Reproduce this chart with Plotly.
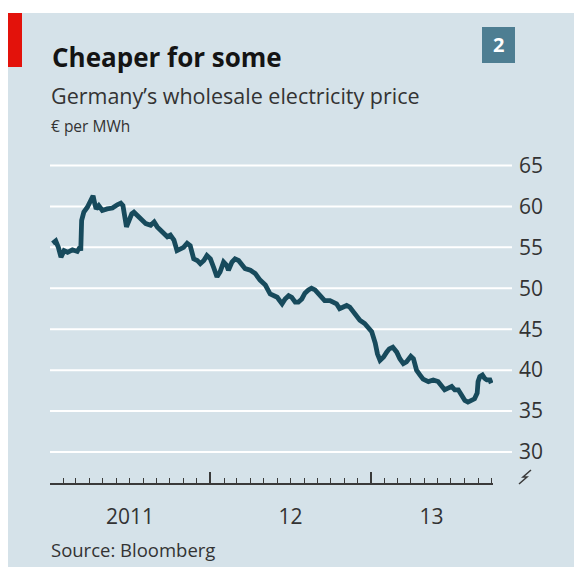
import plotly.graph_objects as go

# ---- data ----
dates = [
    "2011-01-07", "2011-01-14", "2011-01-20", "2011-01-26", "2011-02-02", "2011-02-10",
    "2011-02-21", "2011-03-04", "2011-03-10", "2011-03-12", "2011-03-14", "2011-03-19",
    "2011-03-27", "2011-04-04", "2011-04-09", "2011-04-13", "2011-04-16", "2011-04-22",
    "2011-04-30", "2011-05-11", "2011-05-23", "2011-06-03", "2011-06-11", "2011-06-16",
    "2011-06-20", "2011-06-24", "2011-06-30", "2011-07-06", "2011-07-11", "2011-07-19",
    "2011-07-26", "2011-08-07", "2011-08-18", "2011-08-26", "2011-09-02", "2011-09-10",
    "2011-09-17", "2011-09-25", "2011-10-02", "2011-10-10", "2011-10-17", "2011-10-25",
    "2011-11-01", "2011-11-09", "2011-11-16", "2011-11-24", "2011-12-02", "2011-12-09",
    "2011-12-17", "2011-12-24", "2012-01-01", "2012-01-08", "2012-01-16", "2012-01-23",
    "2012-01-31", "2012-02-07", "2012-02-11", "2012-02-19", "2012-02-26", "2012-03-05",
    "2012-03-13", "2012-03-20", "2012-04-01", "2012-04-12", "2012-04-23", "2012-05-05",
    "2012-05-16", "2012-05-24", "2012-06-01", "2012-06-12", "2012-06-19", "2012-06-27",
    "2012-07-04", "2012-07-12", "2012-07-19", "2012-07-27", "2012-08-03", "2012-08-11",
    "2012-08-18", "2012-08-26", "2012-09-02", "2012-09-10", "2012-09-17", "2012-09-29",
    "2012-10-06", "2012-10-14", "2012-10-21", "2012-10-29", "2012-11-06", "2012-11-13",
    "2012-11-21", "2012-11-28", "2012-12-06", "2012-12-17", "2012-12-25", "2013-01-02",
    "2013-01-10", "2013-01-15", "2013-01-21", "2013-01-29", "2013-02-05", "2013-02-11",
    "2013-02-19", "2013-02-28", "2013-03-07", "2013-03-15", "2013-03-22", "2013-04-01",
    "2013-04-07", "2013-04-14", "2013-04-22", "2013-04-29", "2013-05-11", "2013-05-22",
    "2013-06-02", "2013-06-10", "2013-06-17", "2013-06-25", "2013-07-03", "2013-07-10",
    "2013-07-18", "2013-07-25", "2013-08-02", "2013-08-09", "2013-08-17", "2013-08-24",
    "2013-08-30", "2013-09-01", "2013-09-05", "2013-09-11", "2013-09-16", "2013-09-21",
    "2013-09-28", "2013-10-01",
]
prices = [
    55.5, 55.8, 55.0, 53.8, 54.6, 54.4,
    54.7, 54.5, 55.0, 54.6, 58.3, 59.3,
    59.9, 60.9, 61.3, 60.3, 59.7, 60.1,
    59.5, 59.7, 59.8, 60.2, 60.4, 60.1,
    59.1, 57.5, 58.3, 59.1, 59.3, 58.9,
    58.5, 57.9, 57.7, 58.1, 57.5, 57.1,
    56.7, 56.3, 56.5, 55.9, 54.6, 54.8,
    55.0, 55.5, 55.2, 53.6, 53.4, 53.0,
    53.4, 54.0, 53.6, 52.6, 51.4, 52.0,
    53.2, 52.8, 52.2, 53.2, 53.6, 53.4,
    52.8, 52.4, 52.2, 51.8, 51.0, 50.4,
    49.3, 49.1, 48.9, 48.1, 48.7, 49.1,
    48.9, 48.3, 48.3, 48.7, 49.4, 49.8,
    50.0, 49.8, 49.4, 49.1, 48.5, 48.5,
    48.3, 48.1, 47.5, 47.7, 47.9, 47.7,
    47.1, 46.5, 46.1, 45.7, 45.3, 44.7,
    43.3, 42.0, 41.2, 41.6, 42.2, 42.6,
    42.8, 42.2, 41.4, 40.8, 41.0, 41.7,
    41.4, 40.0, 39.4, 38.9, 38.6, 38.8,
    38.6, 38.0, 37.6, 37.8, 38.0, 37.6,
    37.6, 37.0, 36.3, 36.1, 36.4, 36.5,
    37.2, 38.6, 39.2, 39.4, 39.0, 38.8,
    38.8, 38.4,
]
y_ticks = [30, 35, 40, 45, 50, 55, 60, 65]
year_label_pos = ["2011-07-02", "2012-07-01", "2013-05-18"]
year_labels = ["2011", "12", "13"]
x_start, x_end = "2011-01-01", "2013-10-05"

title = "Cheaper for some"
subtitle = "Germany\u2019s wholesale electricity price"
unit = "\u20ac per MWh"
source = "Source: Bloomberg"

# ---- layout geometry (page body has an 8px margin) ----
O = 8
W, H = 582 - O, 567 - O
L, R, T, B = 42, 89, 142, 84
PW, PH = W - L - R, H - T - B


def px(xs):
    """screen x -> paper x"""
    return (xs - O - L) / PW


def py(ys):
    """screen y -> paper y"""
    return (H - B - (ys - O)) / PH


PANEL = "#d5e2e9"
LINE = "#174a5c"
FONT = "Open Sans"
TXT = "#333333"
AX = "#3a3a3a"

ppu = 8.186  # pixels per unit on screen
y_lo = 30 - (483 - 452) / ppu
y_hi = 65 + (150 - 165.5) / -ppu

fig = go.Figure()
fig.add_trace(go.Scatter(
    x=dates, y=prices, mode="lines",
    line=dict(color=LINE, width=4.8),
    hoverinfo="skip", showlegend=False,
))
# carrier for the overlaid tick axis
fig.add_trace(go.Scatter(
    x=[x_start, x_end], y=[None, None], xaxis="x2", yaxis="y",
    mode="lines", showlegend=False, hoverinfo="skip",
))

fig.update_layout(
    width=W, height=H,
    margin=dict(l=L, r=R, t=T, b=B, pad=0),
    paper_bgcolor=PANEL,
    plot_bgcolor=PANEL,
    font=dict(family=FONT, color=TXT),
    xaxis=dict(
        range=[x_start, x_end],
        showgrid=False, zeroline=False, showline=False, ticks="",
        tickmode="array", tickvals=year_label_pos, ticktext=year_labels,
        tickfont=dict(size=21, color=TXT, family=FONT),
        ticklabelstandoff=19,
    ),
    xaxis2=dict(
        overlaying="x", anchor="y", side="bottom",
        range=[x_start, x_end],
        showgrid=False, zeroline=False,
        showline=True, linecolor=AX, linewidth=1.5,
        showticklabels=False,
        tickmode="linear", tick0=x_start, dtick="M12",
        ticks="inside", ticklen=11, tickwidth=1.5, tickcolor=AX,
        minor=dict(dtick="M1", tick0=x_start, ticks="inside", ticklen=5,
                   tickwidth=1.2, tickcolor=AX),
    ),
    yaxis=dict(
        range=[y_lo, y_hi],
        side="right",
        tickmode="array", tickvals=y_ticks,
        showgrid=False, zeroline=False, showline=False, ticks="",
        tickfont=dict(size=21, color=TXT, family=FONT),
        ticklabelstandoff=25,
    ),
)

shapes = [
    # white strip along the top
    dict(type="rect", xref="paper", yref="paper", x0=px(0), x1=px(600), y0=py(0), y1=py(13),
         fillcolor="white", line=dict(width=0), layer="below"),
    # red tab
    dict(type="rect", xref="paper", yref="paper", x0=px(7), x1=px(22), y0=py(13), y1=py(67),
         fillcolor="#e3120b", line=dict(width=0), layer="above"),
    # number box
    dict(type="rect", xref="paper", yref="paper", x0=px(482), x1=px(515), y0=py(27), y1=py(63),
         fillcolor="#4e7e92", line=dict(width=0), layer="above"),
    # axis break mark
    dict(type="path", xref="paper", yref="paper",
         path=f"M {px(519)},{py(484)} L {px(527)},{py(477)} L {px(523)},{py(477)} L {px(531)},{py(470)}",
         line=dict(color=AX, width=1.5), layer="above"),
]
# horizontal gridlines, extending beyond the time axis
for v in y_ticks:
    shapes.append(dict(type="line", xref="paper", yref="y", x0=px(50), x1=px(512), y0=v, y1=v,
                       line=dict(color="white", width=2), layer="below"))
fig.update_layout(shapes=shapes)

ann = [
    dict(text=f"<b>{title}</b>", x=px(50), y=py(57), xanchor="left", yanchor="middle",
         font=dict(size=26, color="#141414", family=FONT)),
    dict(text=subtitle, x=px(49), y=py(95), xanchor="left", yanchor="middle",
         font=dict(size=21.5, color=TXT, family=FONT)),
    dict(text=unit, x=px(49), y=py(126), xanchor="left", yanchor="middle",
         font=dict(size=15.5, color=TXT, family=FONT)),
    dict(text=source, x=px(49), y=py(549), xanchor="left", yanchor="middle",
         font=dict(size=18.5, color=TXT, family=FONT)),
    dict(text="<b>2</b>", x=px(498.5), y=py(45), xanchor="center", yanchor="middle",
         font=dict(size=20, color="white", family=FONT)),
]
for a in ann:
    a.update(xref="paper", yref="paper", showarrow=False)
fig.update_layout(annotations=ann)

fig.write_html("out.html")
